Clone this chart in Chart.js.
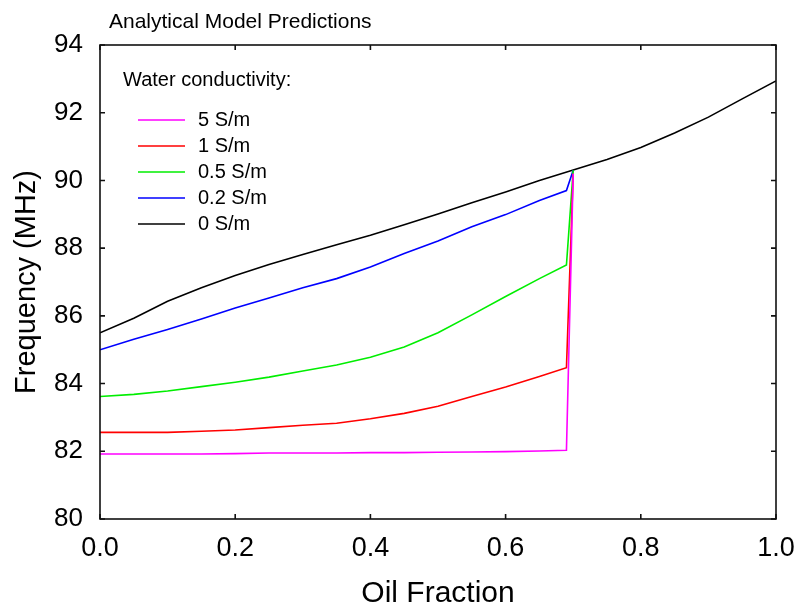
<!DOCTYPE html>
<html>
<head>
<meta charset="utf-8">
<script src="https://cdn.jsdelivr.net/npm/chart.js@4.4.1/dist/chart.umd.min.js"></script>
<style>
  html, body { margin: 0; padding: 0; background: #ffffff; }
  #wrap { width: 796px; height: 610px; position: relative; }
</style>
</head>
<body>
<div id="wrap"><canvas id="c" width="796" height="610"></canvas></div>
<script>
// ---- Text ----
const chartTitle = 'Analytical Model Predictions';
const legendTitle = 'Water conductivity:';
const xAxisTitle = 'Oil Fraction';
const yAxisTitle = 'Frequency (MHz)';
const seriesLabels = ['5 S/m', '1 S/m', '0.5 S/m', '0.2 S/m', '0 S/m'];
const seriesColors = ['#ff00ff', '#ff0000', '#00ee00', '#0000ff', '#000000'];

// ---- Data ----
const oilFractionFull = [0, 0.05, 0.10, 0.15, 0.20, 0.25, 0.30, 0.35, 0.40, 0.45, 0.50,
                         0.55, 0.60, 0.65, 0.70, 0.75, 0.80, 0.85, 0.90, 0.95, 1.00];
const oilFractionWet  = [0, 0.05, 0.10, 0.15, 0.20, 0.25, 0.30, 0.35, 0.40, 0.45, 0.50,
                         0.55, 0.60, 0.65, 0.69, 0.70];

const freq5Sm   = [81.92, 81.92, 81.92, 81.92, 81.93, 81.95, 81.95, 81.95, 81.96, 81.96, 81.97,
                   81.98, 81.99, 82.01, 82.03, 90.20];
const freq1Sm   = [82.56, 82.56, 82.56, 82.59, 82.63, 82.70, 82.77, 82.83, 82.96, 83.12, 83.33,
                   83.62, 83.90, 84.21, 84.47, 90.20];
const freq05Sm  = [83.62, 83.68, 83.78, 83.91, 84.04, 84.19, 84.37, 84.55, 84.78, 85.08, 85.50,
                   86.03, 86.57, 87.10, 87.50, 90.30];
const freq02Sm  = [85.00, 85.31, 85.60, 85.91, 86.23, 86.53, 86.83, 87.10, 87.44, 87.84, 88.21,
                   88.63, 88.99, 89.41, 89.70, 90.30];
const freq0Sm   = [85.50, 85.93, 86.43, 86.83, 87.19, 87.52, 87.81, 88.10, 88.38, 88.69, 89.01,
                   89.34, 89.66, 90.00, 90.31, 90.62, 90.97, 91.40, 91.87, 92.41, 92.94];

// ---- Axis ranges / ticks ----
const xMin = 0, xMax = 1, xStep = 0.2;
const yMin = 80, yMax = 94, yStep = 2;

const FONT = 'Arial, "Liberation Sans", sans-serif';
Chart.defaults.font.family = FONT;
Chart.defaults.color = '#000000';

function toPoints(xs, ys) { return xs.map((x, i) => ({ x: x, y: ys[i] })); }

const seriesX = [oilFractionWet, oilFractionWet, oilFractionWet, oilFractionWet, oilFractionFull];
const seriesY = [freq5Sm, freq1Sm, freq05Sm, freq02Sm, freq0Sm];

const datasets = seriesLabels.map((label, i) => ({
  label: label,
  data: toPoints(seriesX[i], seriesY[i]),
  borderColor: seriesColors[i],
  backgroundColor: seriesColors[i],
  borderWidth: 1.6,
  pointRadius: 0,
  tension: 0,
  fill: false
}));

const framePlugin = {
  id: 'frameAndLegend',
  afterDatasetsDraw(chart) {
    const { ctx, chartArea: a, scales } = chart;
    const xs = scales.x, ys = scales.y;
    ctx.save();
    // frame
    ctx.strokeStyle = '#111111';
    ctx.lineWidth = 1.6;
    ctx.strokeRect(a.left, a.top, a.right - a.left, a.bottom - a.top);
    // inward ticks on all four sides
    const tl = 5;
    ctx.beginPath();
    xs.ticks.forEach(t => {
      const px = xs.getPixelForValue(t.value);
      ctx.moveTo(px, a.bottom); ctx.lineTo(px, a.bottom - tl);
      ctx.moveTo(px, a.top); ctx.lineTo(px, a.top + tl);
    });
    ys.ticks.forEach(t => {
      const py = ys.getPixelForValue(t.value);
      ctx.moveTo(a.left, py); ctx.lineTo(a.left + tl, py);
      ctx.moveTo(a.right, py); ctx.lineTo(a.right - tl, py);
    });
    ctx.stroke();

    // chart title
    ctx.fillStyle = '#000000';
    ctx.textAlign = 'left';
    ctx.textBaseline = 'alphabetic';
    ctx.font = '21px ' + FONT;
    ctx.fillText(chartTitle, a.left + 9, 28);

    // legend inside plot
    ctx.font = '20px ' + FONT;
    ctx.textBaseline = 'middle';
    ctx.fillText(legendTitle, a.left + 23, 80);
    chart.data.datasets.forEach((ds, i) => {
      const yy = 120 + i * 26;
      ctx.strokeStyle = ds.borderColor;
      ctx.lineWidth = 1.6;
      ctx.beginPath();
      ctx.moveTo(a.left + 38, yy);
      ctx.lineTo(a.left + 85, yy);
      ctx.stroke();
      ctx.fillStyle = '#000000';
      ctx.fillText(ds.label, a.left + 98, yy);
    });
    ctx.restore();
  }
};

new Chart(document.getElementById('c'), {
  type: 'line',
  data: { datasets: datasets },
  options: {
    responsive: false,
    animation: false,
    devicePixelRatio: 1,
    layout: { padding: { top: 45, right: 20, bottom: 0, left: 0 } },
    plugins: {
      legend: { display: false },
      title: { display: false },
      tooltip: { enabled: false }
    },
    scales: {
      x: {
        type: 'linear',
        min: xMin, max: xMax,
        grid: { display: false, drawTicks: false },
        border: { display: false },
        ticks: {
          stepSize: xStep,
          padding: 13,
          font: { size: 27 },
          color: '#000000',
          callback: v => Number(v).toFixed(1)
        },
        title: {
          display: true,
          text: xAxisTitle,
          font: { size: 30, lineHeight: 1.0 },
          color: '#000000',
          padding: { top: 0, bottom: 1 }
        },
        afterFit(s) { s.height = 91; s.paddingLeft = 0; s.paddingRight = 0; }
      },
      y: {
        type: 'linear',
        min: yMin, max: yMax,
        grid: { display: false, drawTicks: false },
        border: { display: false },
        ticks: {
          stepSize: yStep,
          padding: 17,
          font: { size: 26 },
          color: '#000000'
        },
        title: {
          display: true,
          text: yAxisTitle,
          font: { size: 29, lineHeight: 1.2 },
          color: '#000000',
          padding: { top: 10, bottom: 0 }
        },
        afterFit(s) { s.width = 100; s.paddingTop = 0; s.paddingBottom = 0; }
      }
    }
  },
  plugins: [framePlugin]
});
</script>
</body>
</html>
